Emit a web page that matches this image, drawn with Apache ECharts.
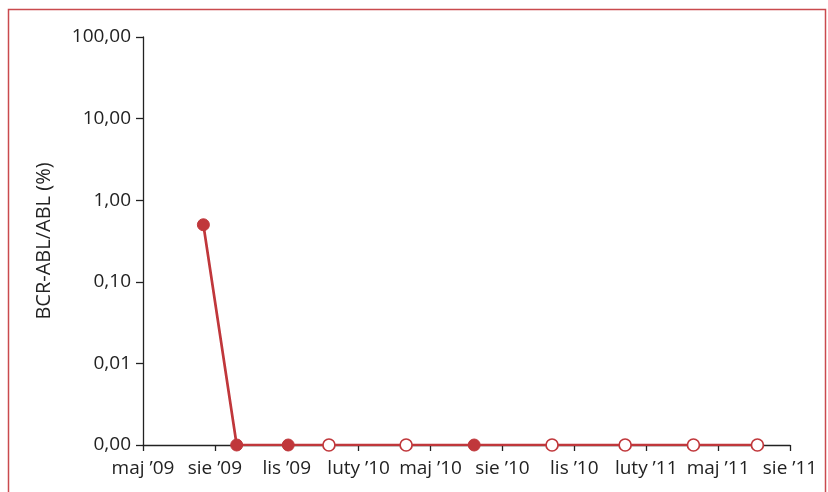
<!DOCTYPE html>
<html>
<head>
<meta charset="utf-8">
<script src="https://cdn.jsdelivr.net/npm/echarts@6/dist/echarts.min.js"></script>
<style>
html,body{margin:0;padding:0;background:#fff;}
#chart{width:828px;height:492px;}
</style>
</head>
<body>
<div id="chart"></div>
<script>
// Months elapsed since 1 May 2009 (x positions of measurements)
const monthsSinceMay09 = [2.52, 3.91, 6.06, 7.76, 10.98, 13.82, 17.07, 20.12, 22.97, 25.64];
// BCR-ABL/ABL (%) ; 0 = undetectable (drawn on the 0,00 baseline)
const bcrAblValues = [0.5, 0, 0, 0, 0, 0, 0, 0, 0, 0];
// filled marker (true) vs open marker (false)
const filledMarker = [true, true, true, false, false, true, false, false, false, false];
// x-axis tick labels every 3 months starting May 2009
const xTickLabels = ["maj \u201909", "sie \u201909", "lis \u201909", "luty \u201910", "maj \u201910", "sie \u201910", "lis \u201910", "luty \u201911", "maj \u201911", "sie \u201911"];
const yMin = 0.001, yMax = 100;

const RED = '#c0373b';
const FONT = 'Open Sans';

const data = monthsSinceMay09.map((m, i) => ({
  value: [m, bcrAblValues[i] > 0 ? bcrAblValues[i] : yMin],
  itemStyle: filledMarker[i]
    ? { color: RED, borderColor: RED, borderWidth: 1 }
    : { color: '#ffffff', borderColor: RED, borderWidth: 1.7 }
}));

const chart = echarts.init(document.getElementById('chart'), null, { renderer: 'canvas' });
chart.setOption({
  animation: false,
  backgroundColor: '#ffffff',
  graphic: [{
    type: 'rect',
    shape: { x: 8.5, y: 9.5, width: 817, height: 600 },
    style: { fill: 'none', stroke: '#c94a4e', lineWidth: 1.5 },
    silent: true
  }],
  grid: { left: 143, top: 37, right: 38, bottom: 47, containLabel: false },
  xAxis: {
    type: 'value',
    min: 0,
    max: (xTickLabels.length - 1) * 3,
    interval: 3,
    splitLine: { show: false },
    axisLine: { show: true, lineStyle: { color: '#222', width: 1.3 } },
    axisTick: { show: true, length: 6, lineStyle: { color: '#222', width: 1.3 } },
    axisLabel: {
      color: '#222', fontFamily: FONT, fontSize: 19, margin: 14,
      showMinLabel: true, showMaxLabel: true, hideOverlap: false,
      formatter: v => xTickLabels[Math.round(v / 3)] || ''
    }
  },
  yAxis: {
    type: 'log',
    logBase: 10,
    min: yMin,
    max: yMax,
    name: 'BCR-ABL/ABL (%)',
    nameLocation: 'middle',
    nameRotate: 90,
    nameGap: 89,
    nameTextStyle: { color: '#222', fontFamily: FONT, fontSize: 20 },
    splitLine: { show: false },
    axisLine: { show: true, lineStyle: { color: '#222', width: 1.3 } },
    axisTick: { show: true, length: 7, lineStyle: { color: '#222', width: 1.3 } },
    axisLabel: {
      color: '#222', fontFamily: FONT, fontSize: 19, margin: 12,
      formatter: v => v.toFixed(2).replace('.', ',')
    }
  },
  series: [{
    type: 'line',
    data: data,
    symbol: 'circle',
    symbolSize: 12,
    showAllSymbol: true,
    lineStyle: { color: RED, width: 2.7 },
    itemStyle: { color: RED },
    z: 3
  }]
});
</script>
</body>
</html>
